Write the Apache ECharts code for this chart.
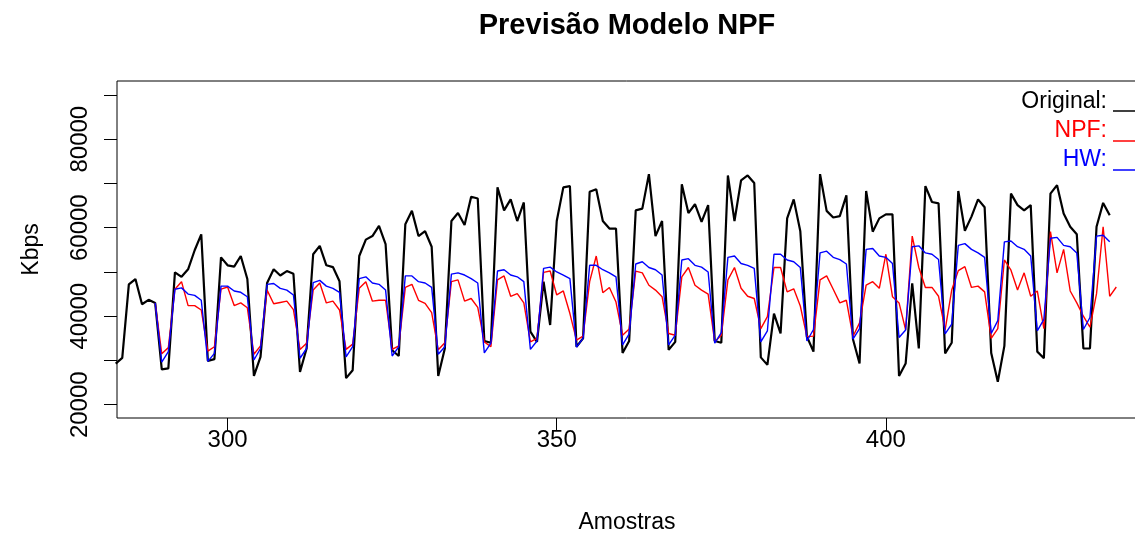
<!DOCTYPE html>
<html>
<head>
<meta charset="utf-8" />
<title>Previsão Modelo NPF</title>
<script src="https://cdn.jsdelivr.net/npm/echarts@6.0.0/dist/echarts.min.js"></script>
<style>
	html, body { margin: 0; padding: 0; background: #fff; }
	#chart { width: 1135px; height: 536px; }
</style>
</head>
<body>
<div id="chart"></div>
<script type="text/javascript">
	/* amostra 283 .. 434 */
	var originalStart = 283;
	var original = [
		29300, 30600, 47200, 48400, 42700, 43700, 43000, 28000, 28200, 49900,
		48900, 50600, 54900, 58500, 29900, 30300, 53300, 51500, 51200, 53600,
		48400, 26500, 30800, 47500, 50600, 49200, 50200, 49600, 27400, 32700,
		54000, 55900, 51500, 51100, 47900, 26000, 27800, 53600, 57300, 58100,
		60400, 56300, 32300, 31000, 60800, 63800, 58100, 59200, 55700, 26500,
		32700, 61500, 63300, 60600, 67000, 66600, 34400, 34000, 69100, 63900,
		66400, 61500, 65700, 36500, 34200, 47800, 38000, 61500, 69100, 69400,
		33100, 35000, 68100, 68700, 61500, 59800, 59800, 31700, 34400, 63900,
		64300, 72100, 58100, 61500, 32400, 34200, 69800, 63300, 65300, 61300,
		65100, 34400, 34000, 71800, 61500, 70700, 71800, 70100, 30700, 29000,
		40600, 36100, 62100, 66400, 59200, 35400, 32000, 72100, 63800, 62300,
		62600, 67300, 34800, 29300, 68300, 59100, 62100, 63000, 63000, 26500,
		29300, 47400, 32700, 69400, 65800, 65500, 31600, 34000, 68300, 59300,
		62500, 66400, 64600, 31700, 25200, 33300, 67700, 65100, 63900, 65100,
		32000, 30500, 67700, 69600, 63200, 60200, 58500, 32700, 32700, 60200,
		65600, 62800
	];

	/* amostra 289 .. 435 */
	var npfStart = 289;
	var npf = [
		43000, 31500, 32900, 46100, 47800, 42400, 42400, 41400, 32100, 33100,
		46100, 46600, 42400, 43000, 41900, 31400, 33300, 45900, 42800, 43100,
		43400, 41500, 32500, 33900, 45900, 47500, 43000, 43400, 41400, 32500,
		33700, 46300, 47800, 43400, 43600, 43600, 32500, 33300, 46500, 47200,
		43600, 42900, 40800, 32400, 34000, 47800, 48200, 43400, 44000, 42000,
		34200, 33100, 48200, 49100, 44500, 45100, 43000, 34200, 35000, 49900,
		50200, 44800, 45700, 40600, 34600, 35500, 47800, 53600, 45300, 46500,
		43200, 35700, 37100, 50200, 49800, 47000, 45900, 44400, 36100, 35700,
		48900, 51000, 47000, 45900, 45000, 34200, 35700, 48200, 51000, 46300,
		44500, 44000, 37200, 39900, 51000, 51000, 45500, 46200, 42300, 35400,
		35500, 48200, 49100, 46100, 43000, 43600, 35400, 38500, 47000, 47800,
		46300, 54000, 44400, 43000, 36900, 58100, 51000, 46500, 46500, 44500,
		36900, 45900, 50300, 51200, 46500, 46800, 45500, 35000, 37200, 52700,
		50400, 45900, 49800, 44500, 45700, 37200, 59100, 49800, 55100, 45700,
		43000, 40000, 37500, 45100, 60200, 44500, 46600
	];

	/* amostra 289 .. 434 */
	var hwStart = 289;
	var hw = [
		43000, 29600, 32000, 46100, 46400, 45000, 44700, 43600, 29800, 31600,
		46800, 46800, 45700, 45400, 44400, 30100, 32700, 47200, 47400, 46300,
		45900, 44800, 30500, 32700, 47600, 48100, 46800, 46300, 45400, 30800,
		33100, 48500, 48900, 47500, 47200, 45900, 31000, 33100, 49100, 49100,
		47800, 47500, 46500, 31400, 33100, 49500, 49800, 49300, 48500, 47500,
		31700, 33900, 50200, 50500, 49300, 48900, 47800, 32500, 34400, 50800,
		51100, 50000, 49300, 48500, 33000, 35000, 51500, 51500, 50500, 49800,
		48900, 33500, 36000, 51800, 52300, 51000, 50500, 49300, 33500, 35700,
		52700, 53000, 51500, 51100, 50000, 33900, 36300, 53300, 53600, 51900,
		51500, 50800, 34200, 36700, 54000, 54000, 52700, 52300, 51000, 34400,
		37000, 54300, 54700, 53300, 52800, 51800, 34800, 37200, 55100, 55300,
		53600, 53300, 51900, 35200, 36900, 55700, 55900, 54300, 54000, 52800,
		36000, 38200, 56000, 56400, 55100, 54300, 53300, 36100, 39000, 56800,
		57000, 55700, 55100, 53600, 36700, 39300, 57600, 57800, 56000, 55700,
		54300, 37000, 39700, 58100, 58300, 56800
	];

	var xTicks = [300, 350, 400];
	var yTicks = [20000, 30000, 40000, 50000, 60000, 70000, 80000, 90000];
	var yLabels = [20000, 40000, 60000, 80000];

	function toPairs(start, vals) {
		return vals.map(function (v, i) { return [start + i, v]; });
	}

	var FONT = '"Liberation Sans", Arial, sans-serif';

	var myChart = echarts.init(document.getElementById('chart'));
	var option = {
		animation: false,
		backgroundColor: '#ffffff',
		grid: {
			left: 117,
			right: -20,
			top: 81,
			bottom: 118,
			show: true,
			borderColor: '#000',
			borderWidth: 1,
			containLabel: false,
			outerBoundsMode: 'none'
		},
		xAxis: {
			type: 'value',
			min: 283.2,
			max: 440.88,
			axisLine: { show: false },
			axisTick: { show: true, customValues: xTicks, length: 13, lineStyle: { color: '#000', width: 1 } },
			axisLabel: { customValues: xTicks, fontFamily: FONT, fontSize: 24, color: '#000', margin: 10 },
			splitLine: { show: false }
		},
		yAxis: {
			type: 'value',
			min: 17000,
			max: 93140,
			name: 'Kbps',
			nameLocation: 'middle',
			nameGap: 74,
			nameTextStyle: { fontFamily: FONT, fontSize: 23, color: '#000' },
			axisLine: { show: false },
			axisTick: { show: true, customValues: yTicks, length: 13, lineStyle: { color: '#000', width: 1 } },
			axisLabel: {
				customValues: yLabels, rotate: 90, fontFamily: FONT, fontSize: 24, color: '#000', margin: 25,
				formatter: function (v) { return String(v); }
			},
			splitLine: { show: false }
		},
		graphic: [
			{ type: 'text', x: 627, y: 26, style: { text: 'Previsão Modelo NPF', font: 'bold 29px ' + FONT, fill: '#000', textAlign: 'center', textVerticalAlign: 'middle' } },
			{ type: 'text', x: 627, y: 523, style: { text: 'Amostras', font: '23px ' + FONT, fill: '#000', textAlign: 'center', textVerticalAlign: 'middle' } },
			{ type: 'text', x: 1107, y: 102, style: { text: 'Original:', font: '23px ' + FONT, fill: '#000', textAlign: 'right', textVerticalAlign: 'middle' } },
			{ type: 'text', x: 1107, y: 131, style: { text: 'NPF:', font: '23px ' + FONT, fill: '#ff0000', textAlign: 'right', textVerticalAlign: 'middle' } },
			{ type: 'text', x: 1107, y: 160, style: { text: 'HW:', font: '23px ' + FONT, fill: '#0000ff', textAlign: 'right', textVerticalAlign: 'middle' } },
			{ type: 'line', shape: { x1: 1113, y1: 111, x2: 1140, y2: 111 }, style: { stroke: '#000', lineWidth: 1.5 } },
			{ type: 'line', shape: { x1: 1113, y1: 141, x2: 1140, y2: 141 }, style: { stroke: '#ff0000', lineWidth: 1.5 } },
			{ type: 'line', shape: { x1: 1113, y1: 170, x2: 1140, y2: 170 }, style: { stroke: '#0000ff', lineWidth: 1.5 } }
		],
		series: [
			{
				name: 'Original',
				type: 'line',
				data: toPairs(originalStart, original),
				symbol: 'none',
				clip: true,
				lineStyle: { color: '#000000', width: 2.2 }
			},
			{
				name: 'NPF',
				type: 'line',
				data: toPairs(npfStart, npf),
				symbol: 'none',
				clip: true,
				lineStyle: { color: '#ff0000', width: 1.4 }
			},
			{
				name: 'HW',
				type: 'line',
				data: toPairs(hwStart, hw),
				symbol: 'none',
				clip: true,
				lineStyle: { color: '#0000ff', width: 1.4 }
			}
		]
	};
	myChart.setOption(option);
</script>
</body>
</html>
